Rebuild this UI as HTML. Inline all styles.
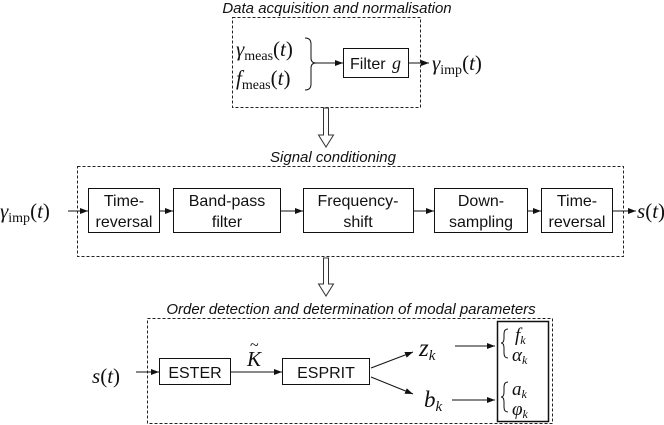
<!DOCTYPE html>
<html><head><meta charset="utf-8"><style>
html,body{margin:0;padding:0;background:#fff;}
svg{display:block;}
.t{font-family:"Liberation Sans",sans-serif;font-size:16px;fill:#111;}
.ti{font-family:"Liberation Sans",sans-serif;font-size:15px;font-style:italic;fill:#111;}
.m{font-family:"Liberation Serif",serif;font-size:21px;font-style:italic;fill:#111;}
.s{font-family:"Liberation Serif",serif;font-size:14px;font-style:normal;fill:#111;}
.si{font-family:"Liberation Serif",serif;font-size:13px;font-style:italic;fill:#111;}
.n{font-style:normal;}
</style></head><body>
<svg width="664" height="425" viewBox="0 0 664 425" xmlns="http://www.w3.org/2000/svg">
<defs><marker id="a" markerWidth="8" markerHeight="6" refX="8" refY="3" orient="auto" markerUnits="userSpaceOnUse"><path d="M0,0 L8,3 L0,6 z" fill="#111"/></marker></defs>
<g fill="none" stroke="#222" stroke-width="1" stroke-dasharray="3,2">
<rect x="232.5" y="17.5" width="188" height="90"/>
<rect x="77.5" y="166.5" width="546" height="90"/>
<rect x="147.5" y="318.5" width="405" height="105"/>
</g>
<text class="ti" x="337" y="13" text-anchor="middle">Data acquisition and normalisation</text>
<text class="ti" x="333" y="162" text-anchor="middle">Signal conditioning</text>
<text class="ti" x="351" y="314" text-anchor="middle">Order detection and determination of modal parameters</text>
<!-- top -->
<text class="m" x="236" y="56">γ<tspan class="s" dy="4">meas</tspan><tspan class="n" dy="-4">(</tspan>t<tspan class="n">)</tspan></text>
<text class="m" x="236" y="85">f<tspan class="s" dy="4">meas</tspan><tspan class="n" dy="-4">(</tspan>t<tspan class="n">)</tspan></text>
<path d="M305,38 Q311,38 311,44 L311,58 Q311,63 316,63 Q311,63 311,68 L311,84 Q311,90 305,90" fill="none" stroke="#111"/>
<g stroke="#111" stroke-width="1" fill="none">
<line x1="316" y1="63" x2="343" y2="63" marker-end="url(#a)"/>
<rect x="343.5" y="48.5" width="65" height="29" fill="#fff"/>
<line x1="408" y1="63" x2="429" y2="63" marker-end="url(#a)"/>
</g>
<text class="t" x="350" y="69">Filter</text><text class="m" x="392" y="69" style="font-size:18px">g</text>
<text class="m" x="432" y="70">γ<tspan class="s" dy="4">imp</tspan><tspan class="n" dy="-4">(</tspan>t<tspan class="n">)</tspan></text>
<!-- hollow arrows -->
<path d="M323.5,108 L323.5,135 L318.5,135 L326,147 L333.5,135 L328.5,135 L328.5,108 z" fill="#fff" stroke="#333"/>
<path d="M323.5,258 L323.5,284 L318.5,284 L326,296 L333.5,284 L328.5,284 L328.5,258 z" fill="#fff" stroke="#333"/>
<!-- middle -->
<text class="m" x="0" y="218">γ<tspan class="s" dy="4">imp</tspan><tspan class="n" dy="-4">(</tspan>t<tspan class="n">)</tspan></text>
<g stroke="#111" fill="#fff">
<line x1="68" y1="211" x2="88" y2="211" marker-end="url(#a)"/>
<rect x="88.5" y="188.5" width="71" height="44"/>
<line x1="159" y1="211" x2="173" y2="211" marker-end="url(#a)"/>
<rect x="173.5" y="188.5" width="107" height="44"/>
<line x1="280" y1="211" x2="303" y2="211" marker-end="url(#a)"/>
<rect x="303.5" y="188.5" width="110" height="44"/>
<line x1="413" y1="211" x2="434" y2="211" marker-end="url(#a)"/>
<rect x="434.5" y="188.5" width="93" height="44"/>
<line x1="527" y1="211" x2="541" y2="211" marker-end="url(#a)"/>
<rect x="541.5" y="188.5" width="71" height="44"/>
<line x1="612" y1="211" x2="636" y2="211" marker-end="url(#a)"/>
</g>
<g class="t" text-anchor="middle">
<text x="124" y="206">Time-</text><text x="124" y="227">reversal</text>
<text x="227" y="206">Band-pass</text><text x="227" y="227">filter</text>
<text x="358" y="206">Frequency-</text><text x="358" y="227">shift</text>
<text x="481" y="206">Down-</text><text x="481" y="227">sampling</text>
<text x="577" y="206">Time-</text><text x="577" y="227">reversal</text>
</g>
<text class="m" x="637" y="218">s<tspan class="n">(</tspan>t<tspan class="n">)</tspan></text>
<!-- bottom -->
<text class="m" x="92" y="383">s<tspan class="n">(</tspan>t<tspan class="n">)</tspan></text>
<g stroke="#111" fill="#fff">
<line x1="136" y1="372" x2="159" y2="372" marker-end="url(#a)"/>
<rect x="159.5" y="358.5" width="71" height="26"/>
<line x1="230" y1="372" x2="282" y2="372" marker-end="url(#a)"/>
<rect x="282.5" y="358.5" width="87" height="26"/>
<line x1="371" y1="368" x2="413" y2="352" marker-end="url(#a)"/>
<line x1="371" y1="377" x2="413" y2="394" marker-end="url(#a)"/>
<line x1="455" y1="346" x2="495" y2="346" marker-end="url(#a)"/>
<line x1="452" y1="400" x2="495" y2="400" marker-end="url(#a)"/>
<rect x="497.5" y="321.5" width="51" height="100" fill="none" stroke-width="1.5"/>
</g>
<text class="t" x="195" y="378" text-anchor="middle">ESTER</text>
<text class="t" x="326" y="378" text-anchor="middle">ESPRIT</text>
<text class="m" x="247" y="366">K</text><text x="250" y="350" font-family="Liberation Serif" style="font-size:16px">~</text>
<text class="m" x="419" y="356" style="font-size:25px">z<tspan class="si" dy="4" style="font-size:15px">k</tspan></text>
<text class="m" x="424" y="407" style="font-size:23px">b<tspan class="si" dy="4" style="font-size:15px">k</tspan></text>
<path d="M508,329 Q504,329 504,334 L504,338 Q504,343 501,343 Q504,343 504,348 L504,353 Q504,358 508,358" fill="none" stroke="#111"/>
<path d="M508,382 Q504,382 504,387 L504,392 Q504,397 501,397 Q504,397 504,402 L504,407 Q504,412 508,412" fill="none" stroke="#111"/>
<text class="m" x="515" y="341" style="font-size:19px">f<tspan class="si" dy="3" style="font-size:12px">k</tspan></text>
<text class="m" x="512" y="361" style="font-size:19px">α<tspan class="si" dy="3" style="font-size:12px">k</tspan></text>
<text class="m" x="512" y="395" style="font-size:19px">a<tspan class="si" dy="3" style="font-size:12px">k</tspan></text>
<text class="m" x="512" y="415" style="font-size:19px">φ<tspan class="si" dy="3" style="font-size:12px">k</tspan></text>
</svg>
</body></html>
